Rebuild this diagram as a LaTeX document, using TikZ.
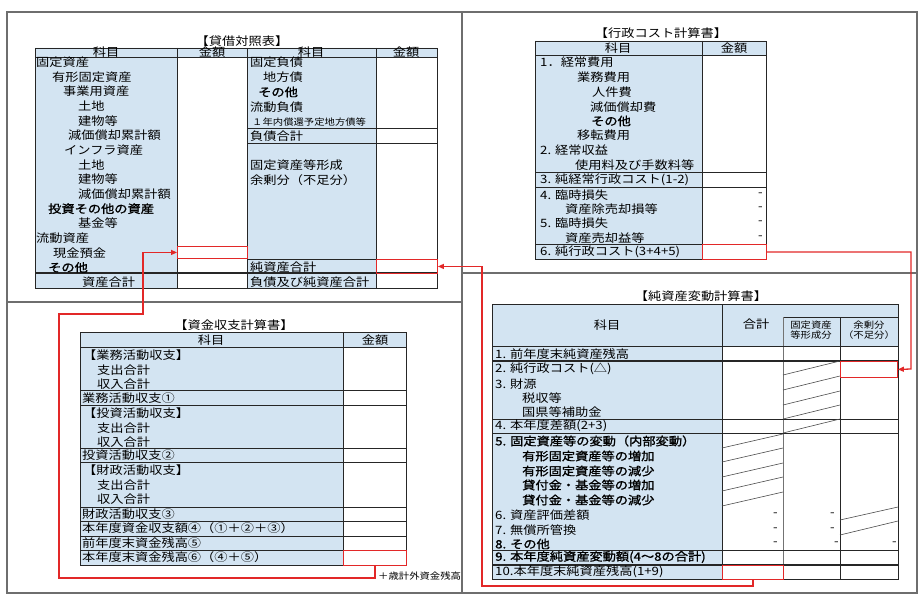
\documentclass[tikz,border=0pt]{standalone}
\usepackage{fontspec}
\setmainfont[FakeStretch=1.15,BoldFont={Noto Sans CJK JP},BoldFeatures={FakeBold=1.3}]{Noto Sans CJK JP}
\usetikzlibrary{arrows.meta}
\definecolor{hdrblue}{RGB}{211,228,242}
\definecolor{framegray}{RGB}{110,110,110}
\definecolor{linkred}{RGB}{226,40,40}
\newcommand{\txtsize}{\fontsize{11.5}{13}\selectfont}
\newcommand{\smalltxt}{\fontsize{9}{10.5}\selectfont}

\begin{document}
\begin{tikzpicture}[x=1pt,y=-1pt,
  lbl/.style={anchor=west,inner sep=0pt,font=\txtsize},
  ttl/.style={inner sep=0pt,font=\txtsize},
  minus/.style={anchor=east,inner sep=0pt,font=\txtsize},
  grid/.style={draw=black!85,line width=0.9pt},
  boldrule/.style={draw=black!85,line width=1.5pt},
  slash/.style={draw=black!70,line width=0.6pt},
  redbox/.style={draw=linkred,line width=0.9pt,inner sep=0pt,anchor=north west},
  link/.style={draw=linkred,line width=1.3pt,-{Triangle[length=6pt,width=5pt]}}]
\useasboundingbox (0,0) rectangle (921,596);

% frame
\draw[framegray,line width=1.2pt] (7,12) rectangle (917,593);
\draw[framegray,line width=1.2pt] (462,12) -- (462,593) (7,302) -- (462,302) (462,273) -- (917,273);

% balance sheet
\fill[hdrblue] (35,48) rectangle (437,57) (35,57) rectangle (177,288) (247,57) rectangle (376,288);
\draw[grid] (35,48) rectangle (437,288);
\draw[grid] (177,48) -- (177,288) (247,48) -- (247,288) (376,48) -- (376,288);
\draw[grid] (35,57) -- (437,57) (247,128) -- (437,128) (247,143) -- (437,143) (247,259) -- (437,259);
\draw[boldrule] (35,273) -- (437,273);
\node[ttl] (bstitle) at (242,41) {【貸借対照表】};
\node[ttl] (bsh1) at (106,52) {科目};
\node[ttl] (bsh2) at (212,52) {金額};
\node[ttl] (bsh3) at (311,52) {科目};
\node[ttl] (bsh4) at (406,52) {金額};
\foreach \t/\x [count=\i from 0] in {固定資産/36,有形固定資産/52,事業用資産/63,土地/78,建物等/78,減価償却累計額/68,インフラ資産/64,土地/78,建物等/78,減価償却累計額/78,{\bfseries 投資その他の資産}/48,基金等/78,流動資産/36,現金預金/53,{\bfseries その他}/48,資産合計/82}
  \node[lbl] (bsa\i) at (\x,{62+14.67*\i}) {\t};
\foreach \t/\x/\y [count=\i] in {固定負債/250/62,地方債/263/77,{\bfseries その他}/258/92,流動負債/250/107,負債合計/250/136,固定資産等形成/250/165,余剰分（不足分）/250/180,純資産合計/250/267,負債及び純資産合計/250/282}
  \node[lbl] (bsl\i) at (\x,\y) {\t};
\node[lbl,font=\smalltxt] (bsl10) at (252,122) {１年内償還予定地方債等};
\node[redbox,minimum width=70pt,minimum height=12pt] (bscash) at (177,246) {};
\node[redbox,minimum width=61pt,minimum height=14pt] (bsnet) at (376,259) {};

% cost statement
\fill[hdrblue] (535,41) rectangle (766,55) (535,55) rectangle (702,259);
\draw[grid] (535,41) rectangle (766,259);
\draw[grid] (702,41) -- (702,259) (535,55) -- (766,55) (535,172) -- (766,172) (535,187) -- (766,187) (535,244) -- (766,244);
\node[ttl] (pltitle) at (661,33) {【行政コスト計算書】};
\node[ttl] (plh1) at (618,48) {科目};
\node[ttl] (plh2) at (734,48) {金額};
\foreach \t/\x/\y [count=\i] in {1．経常費用/540/62,業務費用/577/77,人件費/592/92,減価償却費/590/107,{\bfseries その他}/591/121,移転費用/577/135,2. 経常収益/540/150,使用料及び手数料等/575/165,3. 純経常行政コスト(1-2)/540/180,4. 臨時損失/540/195,資産除売却損等/565/209,5. 臨時損失/540/223,資産売却益等/565/238,6. 純行政コスト(3+4+5)/540/252}
  \node[lbl] (pll\i) at (\x,\y) {\t};
\foreach \y [count=\i] in {195,209,223,238}
  \node[minus] (plm\i) at (763,\y) {-};
\node[redbox,minimum width=64pt,minimum height=15pt] (plnet) at (702,244) {};

% cash flow statement
\fill[hdrblue] (80,332) rectangle (406,347) (80,347) rectangle (343,565);
\draw[grid] (80,332) rectangle (406,565);
\draw[grid] (343,332) -- (343,565) (80,347) -- (406,347);
\foreach \y in {390,405,448,462,507,521,536,550}
  \draw[grid] (80,\y) -- (406,\y);
\node[ttl] (cftitle) at (234,325) {【資金収支計算書】};
\node[ttl] (cfh1) at (211,340) {科目};
\node[ttl] (cfh2) at (375,340) {金額};
\foreach \t/\x/\y [count=\i] in {【業務活動収支】/83/355,支出合計/97/370,収入合計/97/384,業務活動収支①/82/398,【投資活動収支】/83/413,支出合計/97/428,収入合計/97/442,投資活動収支②/82/455,【財政活動収支】/83/470,支出合計/97/485,収入合計/97/499,財政活動収支③/82/514,本年度資金収支額④（①＋②＋③）/82/528,前年度末資金残高⑤/82/543,本年度末資金残高⑥（④＋⑤）/82/557}
  \node[lbl] (cfl\i) at (\x,\y) {\t};
\node[redbox,minimum width=63pt,minimum height=15pt] (cfend) at (343,550) {};
\node[lbl,font=\smalltxt] (cfnote) at (378,576) {＋歳計外資金残高};

% net assets statement
\fill[hdrblue] (492,304) rectangle (898,346) (492,346) rectangle (722,579);
\draw[grid] (492,304) rectangle (898,579);
\draw[grid] (722,304) -- (722,579) (840,317) -- (840,579) (783,317) -- (898,317);
\draw[grid,black!55] (783,317) -- (783,579);
\draw[grid] (492,346) -- (898,346) (492,419) -- (898,419) (492,433) -- (898,433) (492,550) -- (898,550);
\draw[boldrule] (492,361) -- (898,361) (492,565) -- (898,565);
\node[ttl] (natitle) at (701,296) {【純資産変動計算書】};
\node[ttl] (nah1) at (607,325) {科目};
\node[ttl] (nah2) at (756,324) {合計};
\node[ttl,font=\smalltxt,align=center] (nah3) at (811,330) {固定資産\\等形成分};
\node[ttl,font=\smalltxt,align=center] (nah4) at (869,330) {余剰分\\（不足分）};
\foreach \t/\x/\y [count=\i] in {1. 前年度末純資産残高/495/354,2. 純行政コスト(△)/495/369,3. 財源/495/384,税収等/522/398,国県等補助金/522/412,4. 本年度差額(2+3)/495/426,{\bfseries 5. 固定資産等の変動（内部変動）}/495/441,{\bfseries 有形固定資産等の増加}/522/456,{\bfseries 有形固定資産等の減少}/522/471,{\bfseries 貸付金・基金等の増加}/522/485,{\bfseries 貸付金・基金等の減少}/522/500,6. 資産評価差額/495/515,7. 無償所管換/495/530,{\bfseries 8. その他}/495/544,{\bfseries 9. 本年度純資産変動額(4～8の合計)}/495/557,10.本年度末純資産残高(1+9)/495/572}
  \node[lbl] (nal\i) at (\x,\y) {\t};
\foreach \y in {361,376,391,405,419}
  \draw[slash] (783,\y+14) -- (840,\y);
\foreach \y in {434,448,463,477,492}
  \draw[slash] (722,\y+14) -- (783,\y);
\draw[slash] (840,520) -- (898,507) (840,535) -- (898,521);
\foreach \x/\y [count=\i] in {778/515,778/530,778/544,835/515,835/530,839/544,897/544}
  \node[minus] (nam\i) at (\x,\y) {-};
\node[redbox,minimum width=57pt,minimum height=16pt] (naneg) at (840,361) {};
\node[redbox,minimum width=61pt,minimum height=14pt] (na10) at (722,565) {};

% links
\coordinate (cfturnA) at (59,578);
\coordinate (cfturnB) at (143,314);
\coordinate (plturn) at (911,369);
\coordinate (naturn) at (482,586);
\draw[link] (cfend.south) |- (cfturnA) |- (cfturnB) |- (bscash.west);
\draw[link] (plnet.east) -| (plturn) -- (naneg.east);
\draw[link] (na10.south) |- (naturn) |- (bsnet.east);

\end{tikzpicture}
\end{document}
